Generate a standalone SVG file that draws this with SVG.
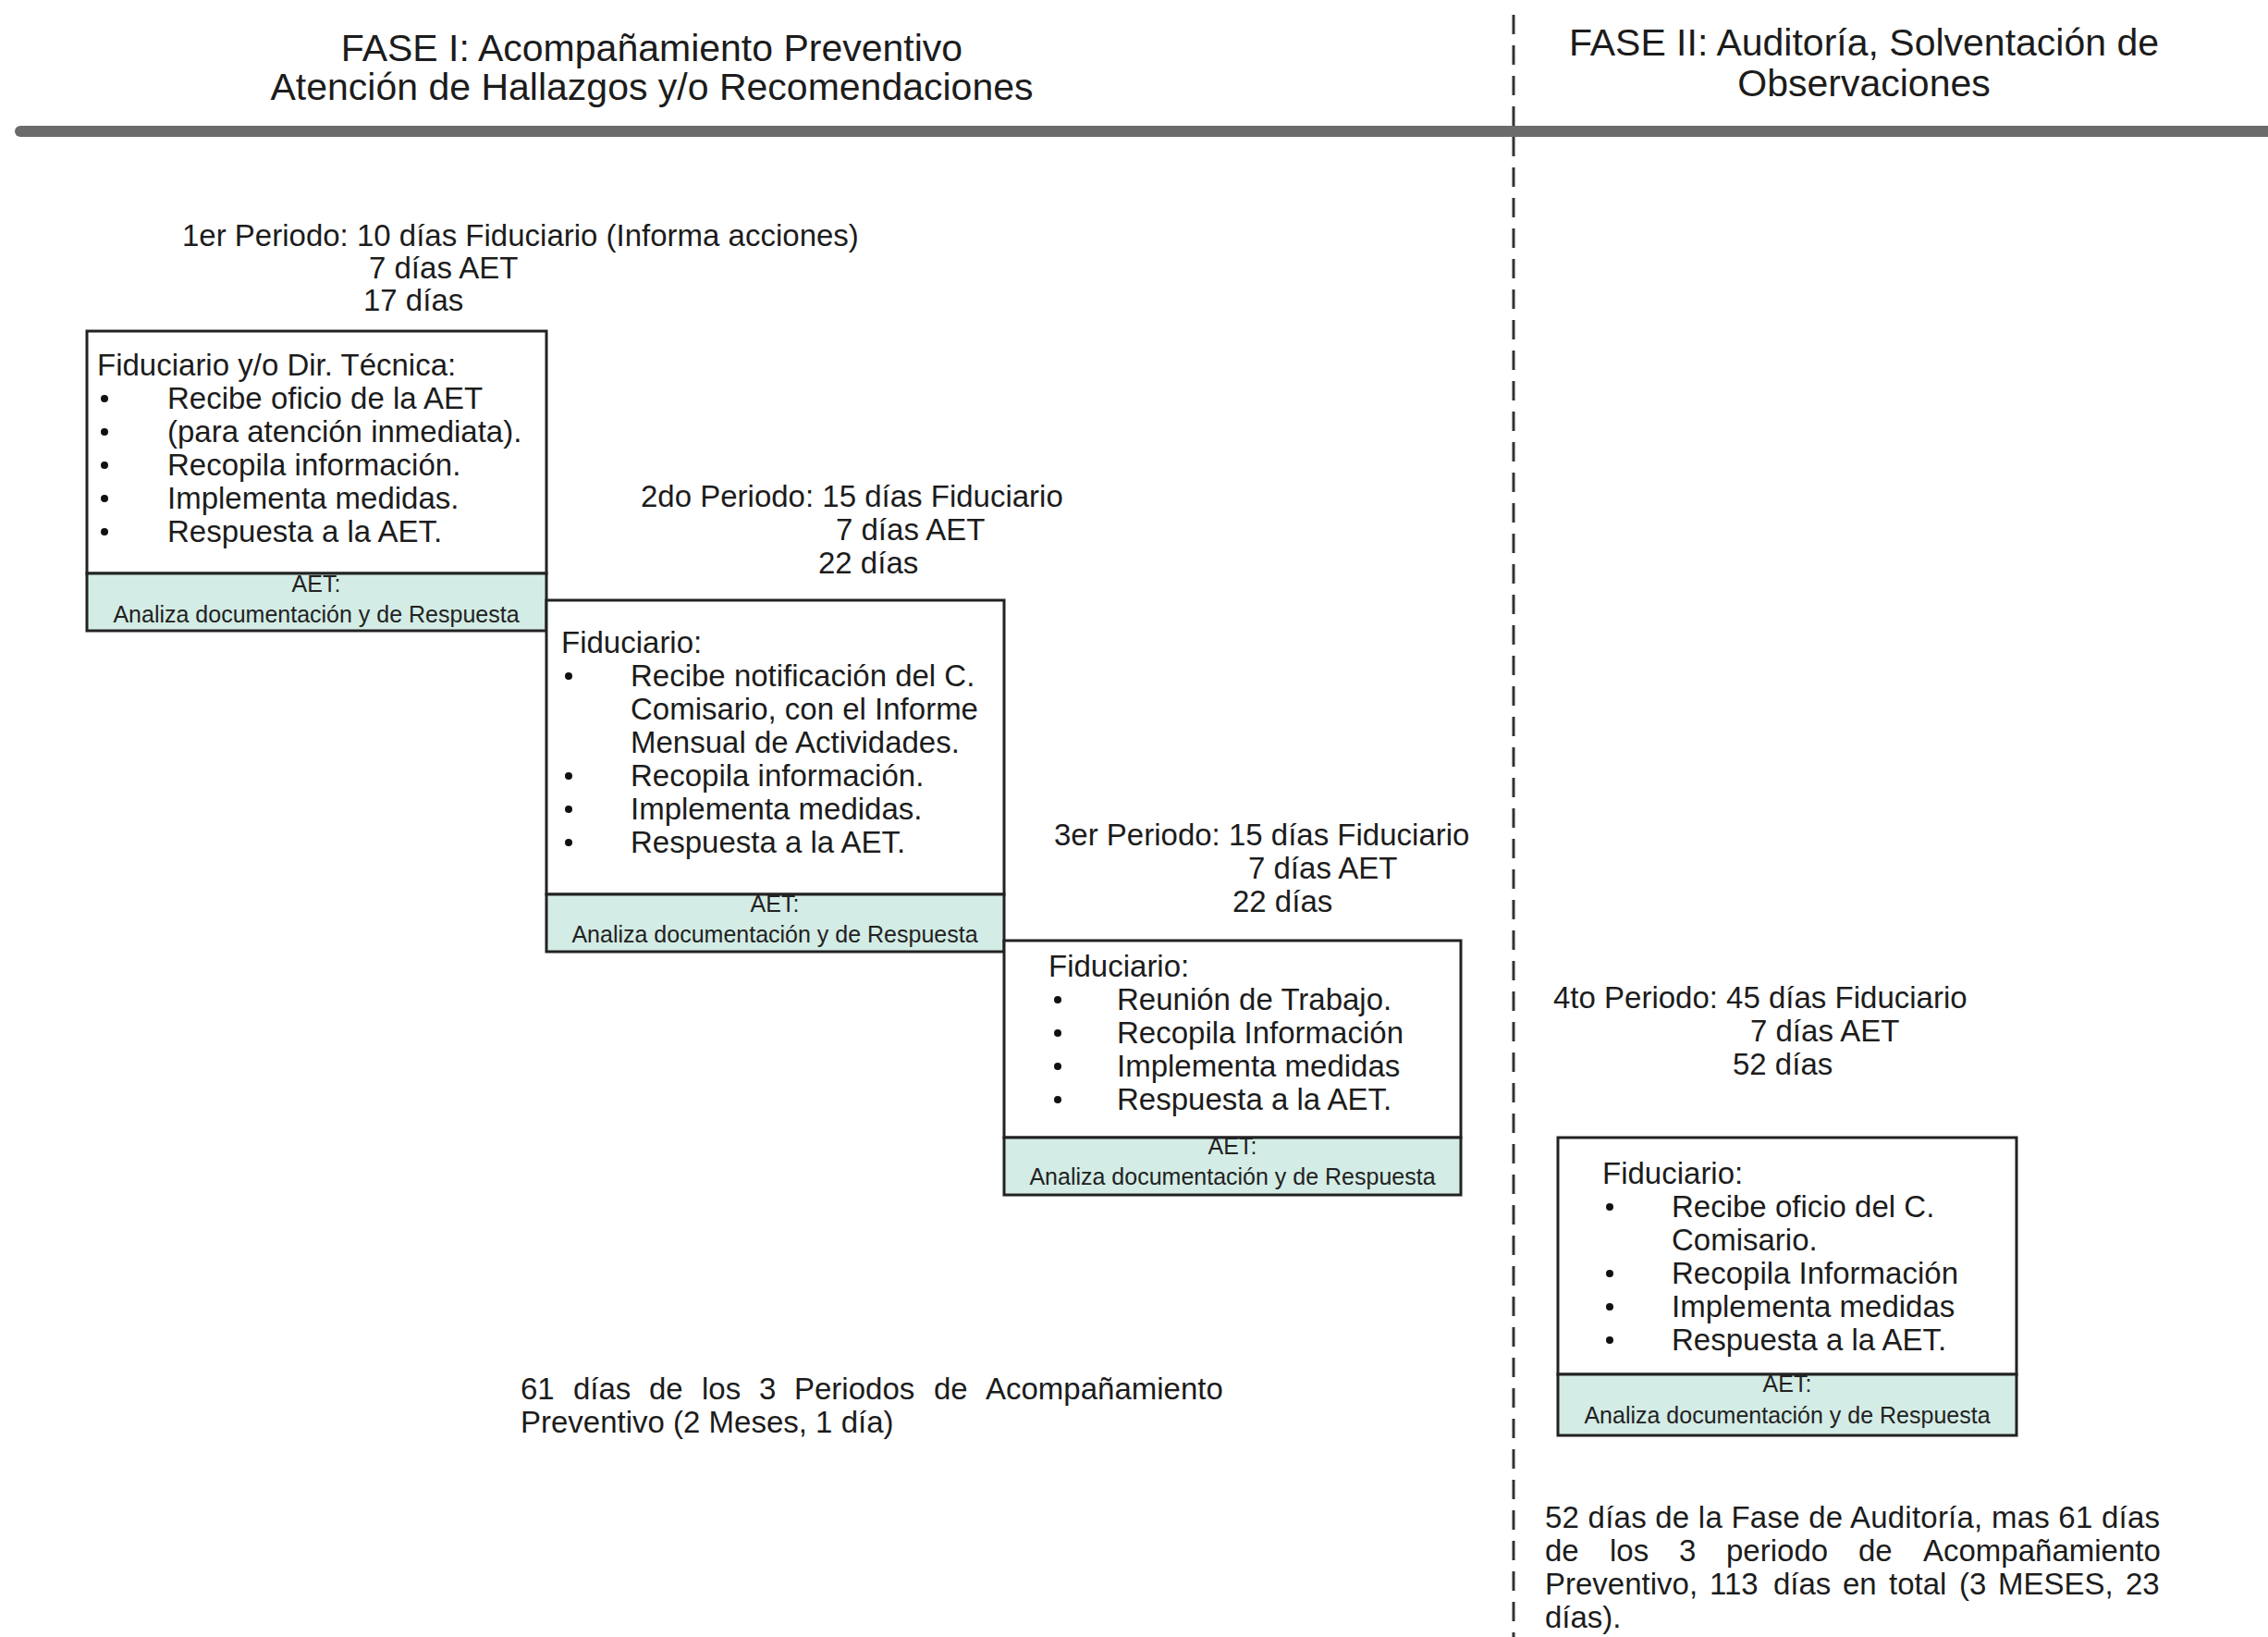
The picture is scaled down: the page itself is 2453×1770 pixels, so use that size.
<svg xmlns="http://www.w3.org/2000/svg" width="2453" height="1770" viewBox="0 0 2453 1770">
<style>
text{font-family:"Liberation Sans",Arial,sans-serif;fill:#1c1c1c}
.title{font-size:41px;text-anchor:middle}
.lbl{font-size:33px}
.body{font-size:33px}
.aet{font-size:25px;text-anchor:middle;fill:#222}
.box{fill:#fff;stroke:#222;stroke-width:3}
.strip{fill:#d3ece5;stroke:#222;stroke-width:3}
.bul{fill:#111}
</style>
<rect width="2453" height="1770" fill="#fff"/>
<g id="dividers">
<line x1="22" y1="142" x2="2460" y2="142" stroke="#6b6b6b" stroke-width="12" stroke-linecap="round"/>
<line x1="1637" y1="16" x2="1637" y2="1770" stroke="#333" stroke-width="3" stroke-dasharray="21 12"/>
</g>
<g id="title-fase1">
<text class="title" x="705" y="66">FASE I: Acompañamiento Preventivo</text>
<text class="title" x="705" y="108">Atención de Hallazgos y/o Recomendaciones</text>
</g>
<g id="title-fase2">
<text class="title" x="2016" y="60">FASE II: Auditoría, Solventación de</text>
<text class="title" x="2016" y="104">Observaciones</text>
</g>
<g id="period1-label">
<text class="lbl" x="197" y="266">1er Periodo: 10 días Fiduciario (Informa acciones)</text>
<text class="lbl" x="399" y="301">7 días AET</text>
<text class="lbl" x="393" y="336">17 días</text>
</g>
<g id="period2-label">
<text class="lbl" x="693" y="548">2do Periodo:  15 días Fiduciario</text>
<text class="lbl" x="904" y="584">7 días AET</text>
<text class="lbl" x="885" y="620">22 días</text>
</g>
<g id="period3-label">
<text class="lbl" x="1140" y="914">3er Periodo: 15 días Fiduciario</text>
<text class="lbl" x="1350" y="950">7 días AET</text>
<text class="lbl" x="1333" y="986">22 días</text>
</g>
<g id="period4-label">
<text class="lbl" x="1680" y="1090">4to Periodo: 45 días Fiduciario</text>
<text class="lbl" x="1893" y="1126">7 días AET</text>
<text class="lbl" x="1874" y="1162">52 días</text>
</g>
<g id="box1">
<rect class="box" x="94" y="358" width="497" height="262"/>
<rect class="strip" x="94" y="620" width="497" height="62"/>
<text class="body" x="105" y="406">Fiduciario y/o Dir. Técnica:</text>
<circle class="bul" cx="113" cy="431" r="4"/><text class="body" x="181" y="442">Recibe oficio de la AET</text>
<circle class="bul" cx="113" cy="467" r="4"/><text class="body" x="181" y="478">(para atención inmediata).</text>
<circle class="bul" cx="113" cy="503" r="4"/><text class="body" x="181" y="514">Recopila información.</text>
<circle class="bul" cx="113" cy="539" r="4"/><text class="body" x="181" y="550">Implementa medidas.</text>
<circle class="bul" cx="113" cy="575" r="4"/><text class="body" x="181" y="586">Respuesta a la AET.</text>
<text class="aet" x="342" y="640">AET:</text>
<text class="aet" x="342" y="673">Analiza documentación y de Respuesta</text>
</g>
<g id="box2">
<rect class="box" x="591" y="649" width="495" height="318"/>
<rect class="strip" x="591" y="967" width="495" height="62"/>
<text class="body" x="607" y="706">Fiduciario:</text>
<circle class="bul" cx="615" cy="731" r="4"/><text class="body" x="682" y="742">Recibe notificación del C.</text>
<text class="body" x="682" y="778">Comisario, con el Informe</text>
<text class="body" x="682" y="814">Mensual de Actividades.</text>
<circle class="bul" cx="615" cy="839" r="4"/><text class="body" x="682" y="850">Recopila información.</text>
<circle class="bul" cx="615" cy="875" r="4"/><text class="body" x="682" y="886">Implementa medidas.</text>
<circle class="bul" cx="615" cy="911" r="4"/><text class="body" x="682" y="922">Respuesta a la AET.</text>
<text class="aet" x="838" y="986">AET:</text>
<text class="aet" x="838" y="1019">Analiza documentación y de Respuesta</text>
</g>
<g id="box3">
<rect class="box" x="1086" y="1017" width="494" height="213"/>
<rect class="strip" x="1086" y="1230" width="494" height="62"/>
<text class="body" x="1134" y="1056">Fiduciario:</text>
<circle class="bul" cx="1144" cy="1081" r="4"/><text class="body" x="1208" y="1092">Reunión de Trabajo.</text>
<circle class="bul" cx="1144" cy="1117" r="4"/><text class="body" x="1208" y="1128">Recopila Información</text>
<circle class="bul" cx="1144" cy="1153" r="4"/><text class="body" x="1208" y="1164">Implementa medidas</text>
<circle class="bul" cx="1144" cy="1189" r="4"/><text class="body" x="1208" y="1200">Respuesta a la AET.</text>
<text class="aet" x="1333" y="1248">AET:</text>
<text class="aet" x="1333" y="1281">Analiza documentación y de Respuesta</text>
</g>
<g id="box4">
<rect class="box" x="1685" y="1230" width="496" height="256"/>
<rect class="strip" x="1685" y="1486" width="496" height="66"/>
<text class="body" x="1733" y="1280">Fiduciario:</text>
<circle class="bul" cx="1741" cy="1305" r="4"/><text class="body" x="1808" y="1316">Recibe oficio del C.</text>
<text class="body" x="1808" y="1352">Comisario.</text>
<circle class="bul" cx="1741" cy="1377" r="4"/><text class="body" x="1808" y="1388">Recopila Información</text>
<circle class="bul" cx="1741" cy="1413" r="4"/><text class="body" x="1808" y="1424">Implementa medidas</text>
<circle class="bul" cx="1741" cy="1449" r="4"/><text class="body" x="1808" y="1460">Respuesta a la AET.</text>
<text class="aet" x="1933" y="1505">AET:</text>
<text class="aet" x="1933" y="1539">Analiza documentación y de Respuesta</text>
</g>
<g id="summary-fase1">
<text class="body" y="1513"><tspan x="563">61</tspan><tspan x="620">días</tspan><tspan x="702">de</tspan><tspan x="759">los</tspan><tspan x="821">3</tspan><tspan x="859">Periodos</tspan><tspan x="1010">de</tspan><tspan x="1066">Acompañamiento</tspan></text>
<text class="body" x="563" y="1549">Preventivo (2 Meses, 1 día)</text>
</g>
<g id="summary-fase2">
<text class="body" x="1671" y="1652" textLength="665" lengthAdjust="spacing">52 días de la Fase de Auditoría, mas 61 días</text>
<text class="body" y="1688"><tspan x="1671">de</tspan><tspan x="1741">los</tspan><tspan x="1816">3</tspan><tspan x="1867">periodo</tspan><tspan x="2010">de</tspan><tspan x="2080">Acompañamiento</tspan></text>
<text class="body" y="1724"><tspan x="1671">Preventivo,</tspan><tspan x="1849">113</tspan><tspan x="1918">días</tspan><tspan x="1993">en</tspan><tspan x="2043">total</tspan><tspan x="2119">(3</tspan><tspan x="2161">MESES,</tspan><tspan x="2299">23</tspan></text>
<text class="body" x="1671" y="1760">días).</text>
</g>
</svg>
